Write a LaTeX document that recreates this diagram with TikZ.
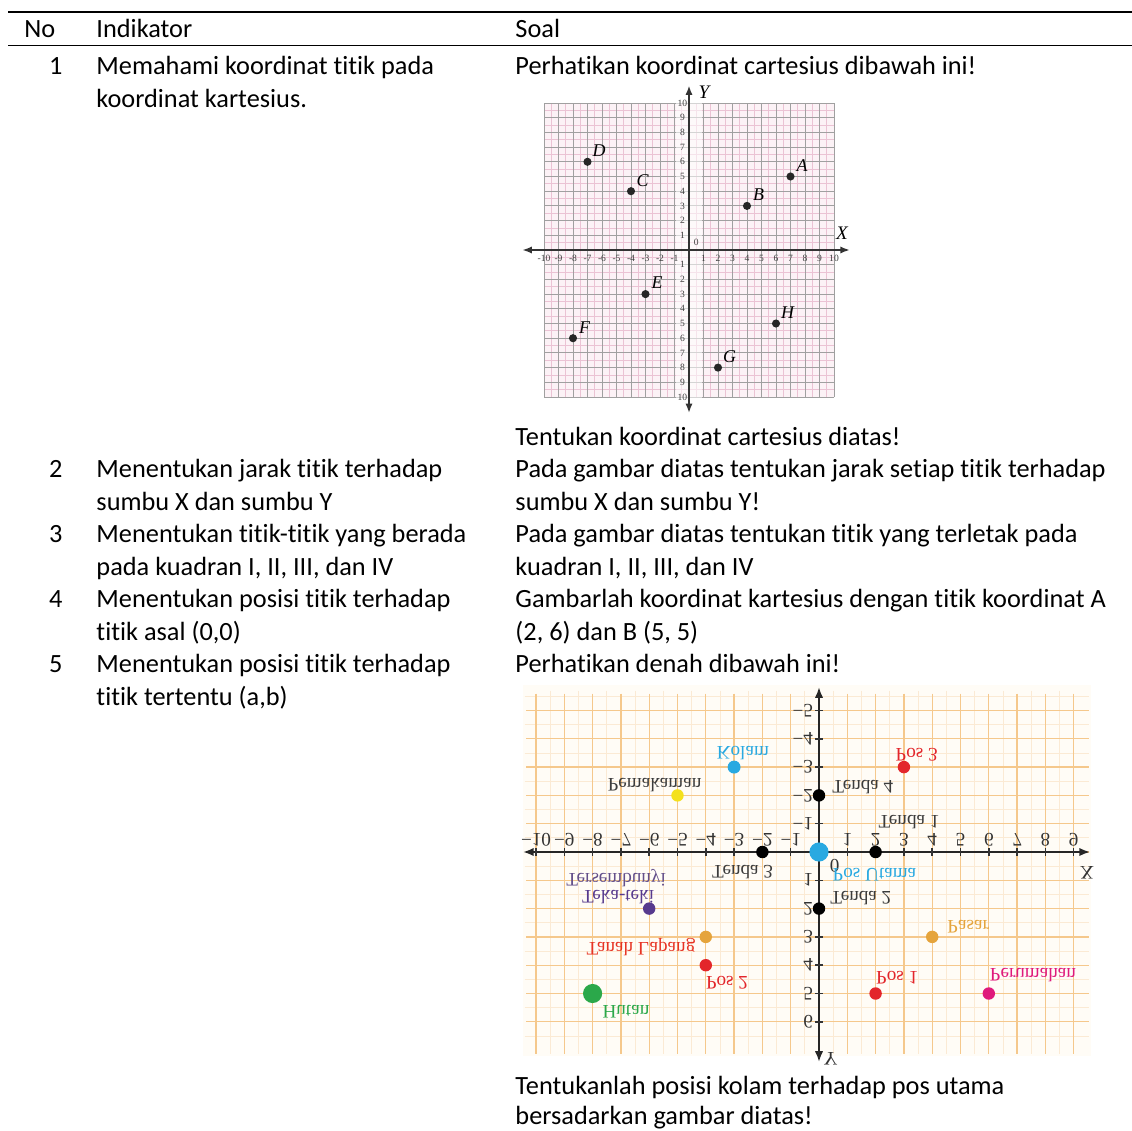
\documentclass[tikz,border=0pt]{standalone}
\usepackage{fontspec}
\setmainfont{Carlito}[Ligatures={NoCommon}]
\newfontfamily\serifx{Liberation Serif}
\usepackage{graphicx}
\usetikzlibrary{arrows.meta}
\newcommand\flp[1]{\scalebox{1}[-1]{#1}}
\definecolor{pinkbg}{HTML}{FCF2F6}
\definecolor{pinkgrid}{HTML}{EBC3D4}
\definecolor{graygrid}{HTML}{A0A0A0}
\definecolor{creambg}{HTML}{FFFCF6}
\definecolor{orgrid}{HTML}{F5C88C}
\definecolor{orminor}{HTML}{FBEAD4}
\definecolor{cyanp}{HTML}{29A9E1}
\definecolor{redp}{HTML}{E3262B}
\definecolor{yelp}{HTML}{F4E11C}
\definecolor{purp}{HTML}{573A8E}
\definecolor{orap}{HTML}{E5A43C}
\definecolor{grnp}{HTML}{2BA84A}
\definecolor{magp}{HTML}{DF1A7C}
\definecolor{lblgray}{HTML}{3C3C3C}
\begin{document}
\begin{tikzpicture}[x=0.418pt,y=-0.418pt,
  txt/.style={anchor=base west,inner sep=0pt,font=\fontsize{11pt}{13.4pt}\selectfont},
  numr/.style={anchor=base east,inner sep=0pt,font=\fontsize{11pt}{13.4pt}\selectfont},
  rulel/.style={line width=0.6pt,black},
  gonet/.style={inner sep=0pt,font=\serifx\fontsize{4pt}{4pt}\selectfont,text=black!75},
  gonelab/.style={inner sep=0pt,font=\serifx\itshape\fontsize{7.5pt}{8pt}\selectfont},
  goneax/.style={inner sep=0pt,font=\serifx\itshape\fontsize{8pt}{9pt}\selectfont},
  gtwot/.style={inner sep=0pt,font=\serifx\fontsize{8pt}{9pt}\selectfont,text=black!80},
  gtwolab/.style={inner sep=0pt,font=\serifx\fontsize{8pt}{9pt}\selectfont},
  axisone/.style={line width=0.8pt,black!80,{Latex[length=4pt,width=3pt]}-{Latex[length=4pt,width=3pt]}},
  axistwo/.style={line width=0.85pt,black!85,{Latex[length=4.5pt,width=3.5pt]}-{Latex[length=4.5pt,width=3.5pt]}}
]
\useasboundingbox (0,0) rectangle (1132,1131);
\fill[white] (0,0) rectangle (1132,1131);

% ---------- table rules and header ----------
\draw[rulel] (8,12) -- (1132,12);
\draw[rulel] (8,45.7) -- (1132,45.7);
\node[txt] (hno) at (24,37.7) {No};
\node[txt] (hind) at (96,37.7) {Indikator};
\node[txt] (hsoal) at (515,37.7) {Soal};

% ---------- row 1 ----------
\node[numr] (n1) at (63,75) {1};
\node[txt] (i1a) at (96,75) {Memahami koordinat titik pada};
\node[txt] (i1b) at (96,107.5) {koordinat kartesius.};
\node[txt] (s1a) at (515,75) {Perhatikan koordinat cartesius dibawah ini!};
\node[txt] (s1b) at (515,445) {Tentukan koordinat cartesius diatas!};

% ---------- row 2 ----------
\node[numr] (n2) at (63,477.5) {2};
\node[txt] (i2a) at (96,477.5) {Menentukan jarak titik terhadap};
\node[txt] (i2b) at (96,510) {sumbu X dan sumbu Y};
\node[txt] (s2a) at (515,477.5) {Pada gambar diatas tentukan jarak setiap titik terhadap};
\node[txt] (s2b) at (515,510) {sumbu X dan sumbu Y!};

% ---------- row 3 ----------
\node[numr] (n3) at (63,542.5) {3};
\node[txt] (i3a) at (96,542.5) {Menentukan titik-titik yang berada};
\node[txt] (i3b) at (96,575) {pada kuadran I, II, III, dan IV};
\node[txt] (s3a) at (515,542.5) {Pada gambar diatas tentukan titik yang terletak pada};
\node[txt] (s3b) at (515,575) {kuadran I, II, III, dan IV};

% ---------- row 4 ----------
\node[numr] (n4) at (63,607.5) {4};
\node[txt] (i4a) at (96,607.5) {Menentukan posisi titik terhadap};
\node[txt] (i4b) at (96,640) {titik asal (0,0)};
\node[txt] (s4a) at (515,607.5) {Gambarlah koordinat kartesius dengan titik koordinat A};
\node[txt] (s4b) at (515,640) {(2, 6) dan B (5, 5)};

% ---------- row 5 ----------
\node[numr] (n5) at (63,672.5) {5};
\node[txt] (i5a) at (96,672.5) {Menentukan posisi titik terhadap};
\node[txt] (i5b) at (96,705) {titik tertentu (a,b)};
\node[txt] (s5a) at (515,672.5) {Perhatikan denah dibawah ini!};
\node[txt] (s5b) at (515,1094) {Tentukanlah posisi kolam terhadap pos utama};
\node[txt] (s5c) at (515,1124) {bersadarkan gambar diatas!};

% ================= GRAPH 1 =================
\begin{scope}[shift={(689,250)},x=6.061pt,y=6.145pt]
  \fill[pinkbg] (-10,-10) rectangle (10,10);
  \foreach \i in {-9.5,-8.5,...,9.5} {
    \draw[pinkgrid,line width=0.3pt] (\i,-10) -- (\i,10);
    \draw[pinkgrid,line width=0.3pt] (-10,\i) -- (10,\i);
  }
  \foreach \i in {-10,...,10} {
    \draw[graygrid,line width=0.35pt] (\i,-10) -- (\i,10);
    \draw[graygrid,line width=0.35pt] (-10,\i) -- (10,\i);
  }
  \fill[white,opacity=0.55] (-0.9,-10.2) rectangle (0.9,10.2);
  \draw[axisone] (-11.5,0) -- (11.1,0);
  \draw[axisone] (0,-11.1) -- (0,11.2);
  \foreach \i in {1,...,10} {
    \node[gonet] (gxn\i) at (-\i,-0.55) {-\i};
    \node[gonet] (gxp\i) at (\i,-0.55) {\i};
    \node[gonet] (gyp\i) at (-0.45,\i) {\i};
    \node[gonet] (gyn\i) at (-0.45,-\i) {\i};
  }
  \node[gonet] (gorig) at (0.5,0.55) {0};
  \foreach \n/\px/\py in {A/7/5,B/4/3,C/-4/4,D/-7/6,E/-3/-3,F/-8/-6,G/2/-8,H/6/-5} {
    \fill[black!85] (\px,\py) circle[radius=1.7pt];
    \node[gonelab] (pt\n) at (\px+0.8,\py+0.75) {\n};
  }
  \node[goneax] (gX) at (10.55,1.16) {X};
  \node[goneax] (gY) at (1.03,10.75) {Y};
\end{scope}

% ================= GRAPH 2 (vertically mirrored map) =================
\begin{scope}[shift={(819,852)},x=11.83pt,y=-11.83pt]
  \fill[creambg] (-10.45,-5.9) rectangle (9.6,7.2);
  \foreach \i in {-9.5,-8.5,...,8.5} {
    \draw[orminor,line width=0.35pt] (\i,-5.7) -- (\i,7.15);
  }
  \foreach \j in {-5.5,-4.5,...,6.5} {
    \draw[orminor,line width=0.35pt] (-10.4,\j) -- (9.55,\j);
  }
  \foreach \i in {-10,...,9} {
    \draw[orgrid,line width=0.55pt] (\i,-5.6) -- (\i,7.15);
  }
  \foreach \j in {-5,...,6} {
    \draw[orgrid,line width=0.55pt] (-10.35,\j) -- (9.55,\j);
  }
  \draw[axistwo] (-10.46,0) -- (9.58,0);
  \draw[axistwo] (0,-5.83) -- (0,7.42);
  \foreach \i in {-10,...,9} { \draw[line width=0.6pt,black!80] (\i,-0.13) -- (\i,0.13); }
  \foreach \j in {-5,...,6} { \draw[line width=0.6pt,black!80] (-0.13,\j) -- (0.13,\j); }
  \foreach \i in {1,...,10} { \node[gtwot] (hxn\i) at (-\i,-0.42) {\flp{−\i}}; }
  \foreach \i in {1,...,9} { \node[gtwot] (hxp\i) at (\i,-0.42) {\flp{\i}}; }
  \foreach \j in {1,...,5} { \node[gtwot,anchor=east] (hyn\j) at (-0.2,-\j) {\flp{−\j}}; }
  \foreach \j in {1,...,6} { \node[gtwot,anchor=east] (hyp\j) at (-0.2,\j) {\flp{\j}}; }
  \node[gtwot] (horig) at (0.55,0.48) {\flp{0}};
  \node[gtwot] (hX) at (9.47,0.72) {\flp{X}};
  \node[gtwot] (hY) at (0.42,7.3) {\flp{Y}};
  % points
  \foreach \px/\py/\c/\r in {-3/-3/cyanp/2.7pt, 3/-3/redp/2.6pt, -5/-2/yelp/2.6pt, 0/-2/black/2.6pt,
      2/0/black/2.6pt, -2/0/black/2.6pt, 0/0/cyanp/4.0pt, -6/2/purp/2.6pt, 0/2/black/2.6pt,
      4/3/orap/2.6pt, -4/3/orap/2.6pt, -4/4/redp/2.6pt, -8/5/grnp/4.0pt, 2/5/redp/2.6pt, 6/5/magp/2.6pt} {
    \fill[\c] (\px,\py) circle[radius=\r];
  }
  % labels
  \node[gtwolab,text=cyanp] (lkolam) at (-2.69,-3.50) {\flp{Kolam}};
  \node[gtwolab,text=redp] (lpos3) at (3.45,-3.43) {\flp{Pos 3}};
  \node[gtwolab,text=lblgray] (lpemak) at (-5.81,-2.37) {\flp{Pemakaman}};
  \node[gtwolab,text=lblgray] (ltenda4) at (1.55,-2.30) {\flp{Tenda 4}};
  \node[gtwolab,text=lblgray] (ltenda1) at (3.18,-1.06) {\flp{Tenda 1}};
  \node[gtwolab,text=lblgray] (ltenda3) at (-2.70,0.71) {\flp{Tenda 3}};
  \node[gtwolab,text=cyanp] (lposu) at (1.96,0.81) {\flp{Pos Utama}};
  \node[gtwolab,text=purp!70!gray] (lters) at (-7.17,0.92) {\flp{Tersembunyi}};
  \node[gtwolab,text=purp] (lteka) at (-7.10,1.59) {\flp{Teka-teki}};
  \node[gtwolab,text=lblgray] (ltenda2) at (1.48,1.63) {\flp{Tenda 2}};
  \node[gtwolab,text=orap] (lpasar) at (5.27,2.65) {\flp{Pasar}};
  \node[gtwolab,text=redp!85!orange] (ltanah) at (-6.29,3.36) {\flp{Tanah Lapang}};
  \node[gtwolab,text=redp] (lpos2) at (-3.25,4.63) {\flp{Pos 2}};
  \node[gtwolab,text=grnp] (lhutan) at (-6.82,5.65) {\flp{Hutan}};
  \node[gtwolab,text=redp] (lpos1) at (2.76,4.45) {\flp{Pos 1}};
  \node[gtwolab,text=magp] (lperum) at (7.56,4.35) {\flp{Perumahan}};
\end{scope}
\end{tikzpicture}
\end{document}
